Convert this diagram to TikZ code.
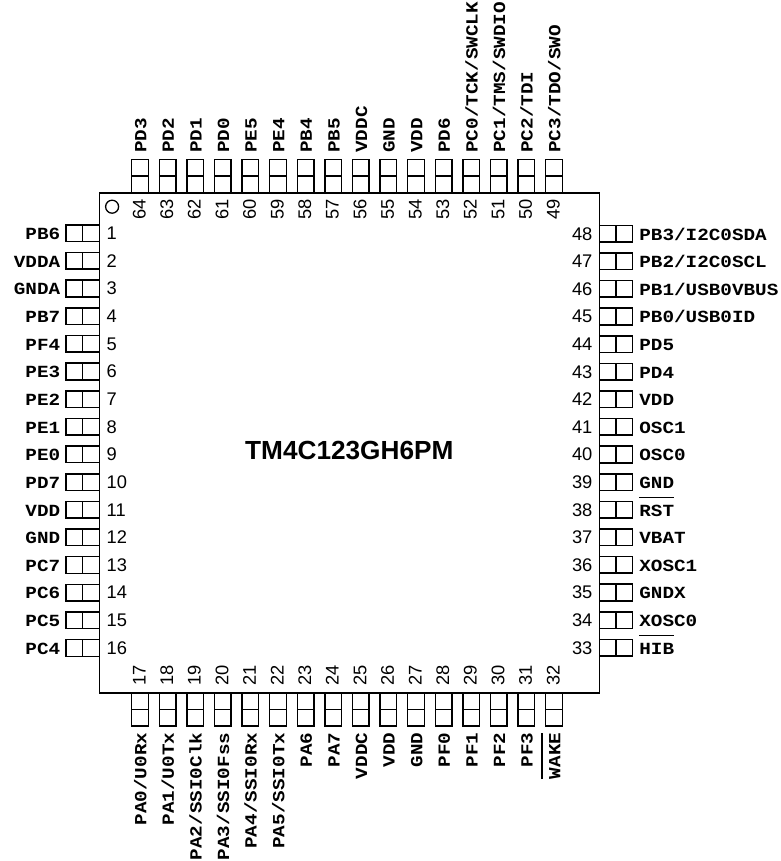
\documentclass[tikz,border=0pt]{standalone}
\usepackage{fontspec}
\setmainfont{Liberation Sans}
\setmonofont{Liberation Mono}[FakeStretch=1.135]
\newcommand{\barred}[1]{\vbox{\hrule height 1.3pt \kern 6.5pt \hbox{#1}}}

\begin{document}
\begin{tikzpicture}[
x=1pt, y=1pt,
chipnode/.style =
  {rectangle, draw, line width=1.6pt,
   minimum size=500pt, inner sep=0pt, outer sep=0pt},
pinbox/.style =
  {rectangle, draw, line width=1.5pt,
   minimum size=16.6pt, inner sep=0pt, outer sep=0pt},
pinlabel/.style =
  {inner sep=0pt, font=\ttfamily\bfseries\fontsize{17}{20}\selectfont},
pinnum/.style =
  {inner sep=0pt, font=\fontsize{18.3}{20}\selectfont}
]
\useasboundingbox (0,0) rectangle (780,-861);
%Chip
\node[chipnode] (chip) at (349.3,-442.7) {};
\node[font=\bfseries\fontsize{26.2}{28}\selectfont] (title) at ([yshift=-7.5pt]chip.center) {TM4C123GH6PM};
\node[draw, circle, line width=1.3pt, minimum size=13pt, inner sep=0pt] (dot) at ([xshift=12.8pt,yshift=-14pt]chip.north west) {};
%Left pins
\foreach \i/\lab in {1/PB6,2/VDDA,3/GNDA,4/PB7,5/PF4,6/PE3,7/PE2,8/PE1,9/PE0,10/PD7,11/VDD,12/GND,13/PC7,14/PC6,15/PC5,16/PC4}
{
  \node[pinbox] (lin\i) at ([xshift=-8.3pt,yshift={-40.5pt-(\i-1)*27.65pt}]chip.north west) {};
  \node[pinbox] (lout\i) at ([xshift=-16.6pt]lin\i.center) {};
  \node[pinlabel, anchor=base east] (llab\i) at ([xshift=-14pt,yshift=-6.3pt]lout\i.center) {\lab};
  \node[pinnum, anchor=base west] (lnum\i) at ([xshift=15.5pt,yshift=-6.3pt]lin\i.center) {\i};
}
%Bottom pins
\foreach \i/\lab in {17/{PA0/U0Rx},18/{PA1/U0Tx},19/{PA2/SSI0Clk},20/{PA3/SSI0Fss},21/{PA4/SSI0Rx},22/{PA5/SSI0Tx},23/PA6,24/PA7,25/VDDC,26/VDD,27/GND,28/PF0,29/PF1,30/PF2,31/PF3,32/\barred{WAKE}}
{
  \node[pinbox] (bin\i) at ([xshift={40.7pt+(\i-17)*27.6pt},yshift=-8.3pt]chip.south west) {};
  \node[pinbox] (bout\i) at ([yshift=-16.6pt]bin\i.center) {};
  \node[pinlabel, rotate=90, anchor=base east] (blab\i) at ([xshift=6.3pt,yshift=-15pt]bout\i.center) {\lab};
  \node[pinnum, rotate=90, anchor=base west] (bnum\i) at ([xshift=5.5pt,yshift=15pt]bin\i.center) {\i};
}
%Right pins
\foreach \i/\lab in {33/\barred{HIB},34/XOSC0,35/GNDX,36/XOSC1,37/VBAT,38/\barred{RST},39/GND,40/OSC0,41/OSC1,42/VDD,43/PD4,44/PD5,45/{PB0/USB0ID},46/{PB1/USB0VBUS},47/{PB2/I2C0SCL},48/{PB3/I2C0SDA}}
{
  \node[pinbox] (rin\i) at ([xshift=8.3pt,yshift={45pt+(\i-33)*27.6pt}]chip.south east) {};
  \node[pinbox] (rout\i) at ([xshift=16.6pt]rin\i.center) {};
  \node[pinlabel, anchor=base west] (rlab\i) at ([xshift=15pt,yshift=-6.3pt]rout\i.center) {\lab};
  \node[pinnum, anchor=base east] (rnum\i) at ([xshift=-15pt,yshift=-6.3pt]rin\i.center) {\i};
}
%Top pins
\foreach \i/\lab in {49/{PC3/TDO/SWO},50/{PC2/TDI},51/{PC1/TMS/SWDIO},52/{PC0/TCK/SWCLK},53/PD6,54/VDD,55/GND,56/VDDC,57/PB5,58/PB4,59/PE4,60/PE5,61/PD0,62/PD1,63/PD2,64/PD3}
{
  \node[pinbox] (tin\i) at ([xshift={-45.3pt-(\i-49)*27.6pt},yshift=8.3pt]chip.north east) {};
  \node[pinbox] (tout\i) at ([yshift=16.6pt]tin\i.center) {};
  \node[pinlabel, rotate=90, anchor=base west] (tlab\i) at ([xshift=6.3pt,yshift=15pt]tout\i.center) {\lab};
  \node[pinnum, rotate=90, anchor=base east] (tnum\i) at ([xshift=5.5pt,yshift=-15pt]tin\i.center) {\i};
}
\end{tikzpicture}
\end{document}
